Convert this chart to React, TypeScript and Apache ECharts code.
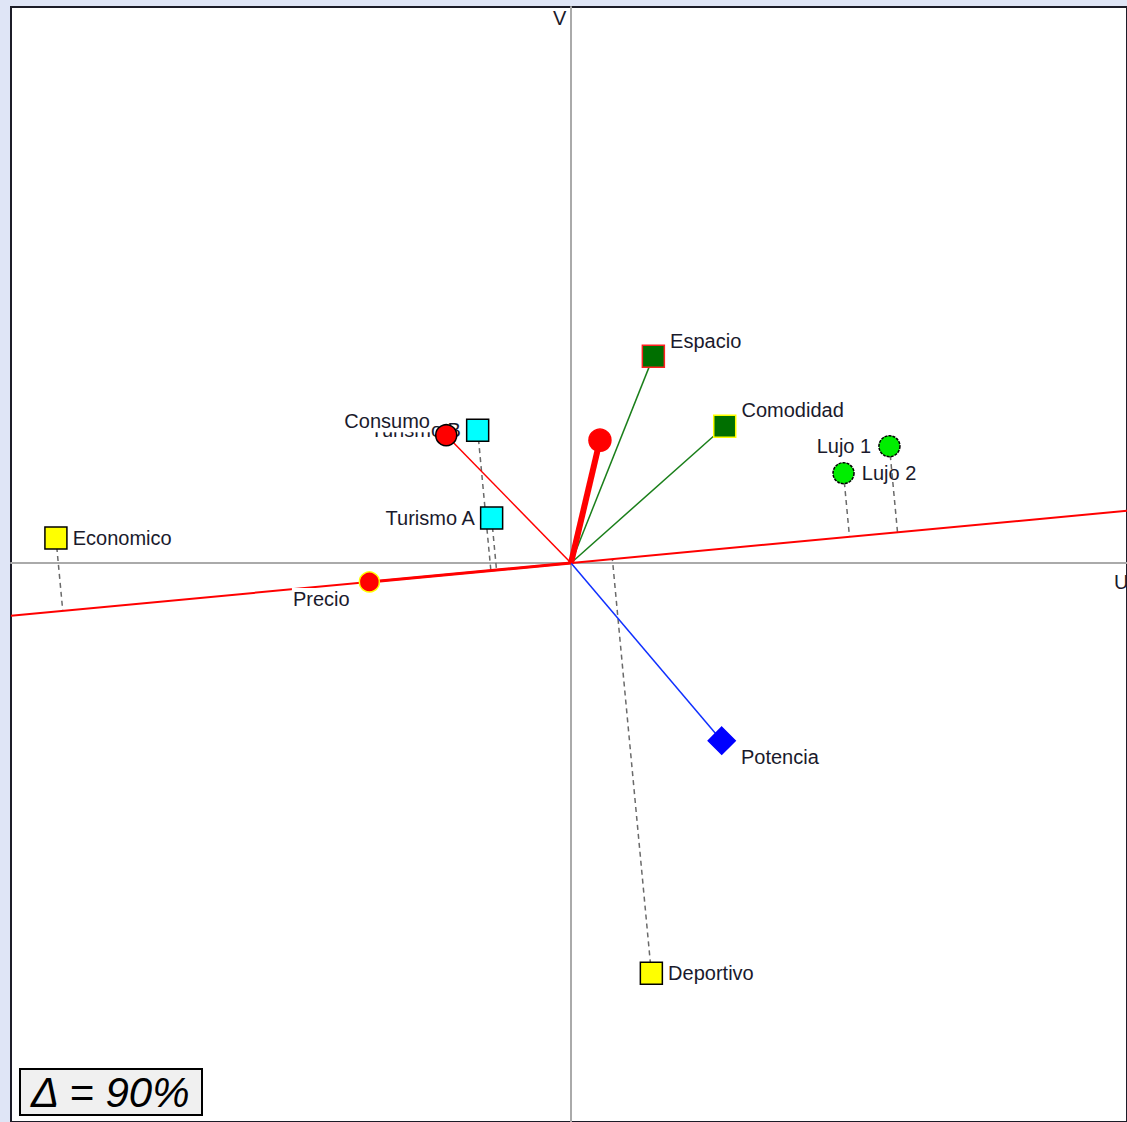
import React, { useEffect, useRef } from 'react';
import * as echarts from 'echarts';

// Observations (U, V coordinates)
const obsNames = ['Economico', 'Turismo B', 'Turismo A', 'Lujo 1', 'Lujo 2', 'Deportivo'];
const obsU = [-5.16, -0.935, -0.795, 3.19, 2.73, 0.805];
const obsV = [0.25, 1.33, 0.45, 1.17, 0.9, -4.11];

// Variables (vector tips)
const varNames = ['Espacio', 'Comodidad', 'Potencia', 'Consumo', 'Precio', ''];
const varU = [0.825, 1.54, 1.51, -1.25, -2.02, 0.29];
const varV = [2.07, 1.37, -1.78, 1.28, -0.19, 1.23];

const axisNames = ['U', 'V'];
const qualityText = 'Δ = 90%';

// Styles (kept apart from data)
const obsSymbol = ['rect', 'rect', 'rect', 'circle', 'circle', 'rect'];
const obsFill = ['#ffff00', '#00ffff', '#00ffff', '#00ee00', '#00ee00', '#ffff00'];
const obsLabelPos = ['right', 'left', 'left', 'left', 'right', 'right'];

const varSymbol = ['rect', 'rect', 'diamond', 'circle', 'circle', 'circle'];
const varFill = ['#006f00', '#006f00', '#0000ff', '#ff0000', '#ff0000', '#ff0000'];
const varBorder = ['#ff2020', '#ffff00', '#0000ff', '#000000', '#ffff00', '#ff0000'];
const varSize = [22, 22, 27, 21, 20, 22];
const varLine = ['#1a7f1a', '#1a7f1a', '#1030ff', '#ff0000', '#ff0000', '#ff0000'];
const varLineWidth = [1.5, 1.5, 1.5, 1.5, 3, 6];
const varLabelPos = ['right', 'right', 'right', 'left', 'left', 'right'];
const varLabelOffset = [[0, -15], [0, -16], [0, 16], [0, -14], [0, 17], [0, 0]];

const X_MIN = -5.61;
const X_MAX = 5.57;
const Y_MIN = -5.6;
const Y_MAX = 5.57;

const FONT = 'Liberation Sans';
const TEXT_COLOR = '#1a1a2c';

export default function App() {
  const ref = useRef<HTMLDivElement>(null);

  useEffect(() => {
    if (!ref.current) return;
    const chart = echarts.init(ref.current, null, { renderer: 'svg' });

    // Precio axis direction
    const pIdx = varNames.indexOf('Precio');
    const pu = varU[pIdx];
    const pv = varV[pIdx];
    const slope = pv / pu;
    const dd = pu * pu + pv * pv;

    const projLines = obsNames.map((_, i) => {
      const t = (obsU[i] * pu + obsV[i] * pv) / dd;
      return { coords: [[obsU[i], obsV[i]], [t * pu, t * pv]] };
    });

    const vecLines = varNames.map((_, i) => ({
      coords: [[0, 0], [varU[i], varV[i]]],
      lineStyle: { color: varLine[i], width: varLineWidth[i], opacity: 1 },
    }));

    const obsData = obsNames.map((n, i) => ({
      name: n,
      value: [obsU[i], obsV[i]],
      symbol: obsSymbol[i],
      symbolSize: obsSymbol[i] === 'rect' ? 22 : 21,
      itemStyle: {
        color: obsFill[i],
        borderColor: '#000',
        borderWidth: 1.5,
        opacity: 1,
        borderType: obsSymbol[i] === 'circle' ? [3, 1] : 'solid',
      },
      label: { position: obsLabelPos[i], distance: obsSymbol[i] === 'circle' ? 7 : 5 },
    }));

    const varData = varNames.map((n, i) => ({
      name: n,
      value: [varU[i], varV[i]],
      symbol: varSymbol[i],
      symbolSize: varSize[i],
      itemStyle: { color: varFill[i], borderColor: varBorder[i], borderWidth: 1.5, opacity: 1 },
      label: {
        show: n !== '',
        position: varLabelPos[i],
        offset: varLabelOffset[i],
        distance: n === 'Precio' ? 8 : 4,
        backgroundColor: n === 'Precio' || n === 'Consumo' ? '#ffffff' : 'transparent',
        padding: [1, 1],
      },
    }));

    const labelBase = {
      show: true,
      formatter: '{b}',
      fontFamily: FONT,
      fontSize: 20,
      color: TEXT_COLOR,
    };

    chart.setOption({
      animation: false,
      backgroundColor: 'transparent',
      grid: {
        left: 11,
        top: 7,
        width: 1118,
        height: 1117,
        show: true,
        backgroundColor: '#ffffff',
        borderColor: '#1c1c28',
        borderWidth: 2,
      },
      xAxis: {
        type: 'value',
        min: X_MIN,
        max: X_MAX,
        axisLine: { show: true, onZero: true, lineStyle: { color: '#aaaaaa', width: 2 } },
        axisTick: { show: false },
        axisLabel: { show: false },
        splitLine: { show: false },
      },
      yAxis: {
        type: 'value',
        min: Y_MIN,
        max: Y_MAX,
        axisLine: { show: true, onZero: true, lineStyle: { color: '#aaaaaa', width: 2 } },
        axisTick: { show: false },
        axisLabel: { show: false },
        splitLine: { show: false },
      },
      series: [
        {
          type: 'line',
          name: 'Precio axis',
          data: [
            [X_MIN, X_MIN * slope],
            [X_MAX, X_MAX * slope],
          ],
          symbol: 'none',
          lineStyle: { color: '#ff0000', width: 2, opacity: 1 },
          z: 2,
          silent: true,
        },
        {
          type: 'lines',
          coordinateSystem: 'cartesian2d',
          data: projLines,
          lineStyle: { color: '#6a6a6a', width: 1.5, type: [5, 4], opacity: 1 },
          z: 2,
          silent: true,
        },
        {
          type: 'lines',
          coordinateSystem: 'cartesian2d',
          data: vecLines,
          lineStyle: { opacity: 1 },
          z: 3,
          silent: true,
        },
        {
          type: 'scatter',
          data: obsData,
          label: labelBase,
          itemStyle: { opacity: 1 },
          z: 4,
        },
        {
          type: 'scatter',
          data: varData,
          label: labelBase,
          itemStyle: { opacity: 1 },
          z: 5,
        },
      ],
      graphic: [
        {
          type: 'text',
          x: 553,
          y: 8,
          z: 100,
          style: { text: axisNames[1], font: `20px "${FONT}"`, fill: TEXT_COLOR },
        },
        {
          type: 'text',
          x: 1114,
          y: 572,
          z: 100,
          style: { text: axisNames[0], font: `20px "${FONT}"`, fill: TEXT_COLOR },
        },
        {
          type: 'rect',
          z: 100,
          shape: { x: 20, y: 1069, width: 182, height: 46 },
          style: { fill: '#f0f0f0', stroke: '#000000', lineWidth: 2 },
        },
        {
          type: 'text',
          x: 31,
          y: 1071,
          z: 101,
          style: { text: qualityText, font: `italic 42px "${FONT}"`, fill: '#000000' },
        },
      ],
    });

    return () => chart.dispose();
  }, []);

  return (
    <div
      style={{
        position: 'fixed',
        left: 0,
        top: 0,
        width: 1127,
        height: 1122,
        background: '#dfe5f6',
        overflow: 'hidden',
      }}
    >
      <div ref={ref} style={{ width: 1127, height: 1122 }} />
    </div>
  );
}
